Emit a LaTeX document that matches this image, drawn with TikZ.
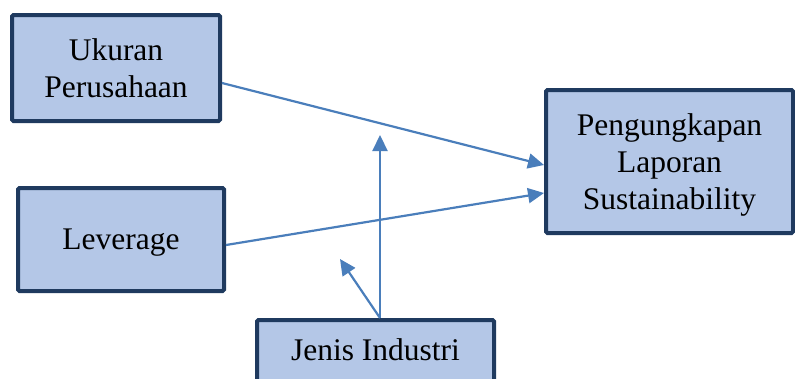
\documentclass[tikz,border=0pt]{standalone}
\usepackage{fontspec}
\setmainfont{Liberation Serif}
\usetikzlibrary{calc,arrows.meta}

\definecolor{boxfill}{HTML}{B4C7E7}
\definecolor{boxline}{HTML}{1F3A5F}
\definecolor{arrowblue}{HTML}{4A7EBB}

\begin{document}
\begin{tikzpicture}[
    x=1pt, y=-1pt,
    varbox/.style={rectangle, draw=boxline, fill=boxfill, line width=4pt, rounded corners=1.5pt, align=center, inner sep=0pt, font=\fontsize{31.5}{37}\selectfont},
    arrow/.style={-{Triangle[length=16pt, width=15pt]}, line width=2.2pt, arrowblue},
]

\clip (0,0) rectangle (795,378);
\useasboundingbox (0,0) rectangle (795,378);

% === VARIABLES ===
\node[varbox, minimum width=208pt, minimum height=106pt] at (116,68) (ukuran) {Ukuran\\Perusahaan};
\node[varbox, minimum width=206pt, minimum height=103pt, text depth=0pt] at (121,239.5) (leverage) {Leverage};
\node[varbox, minimum width=247pt, minimum height=143pt, text depth=0pt] at (669.5,161.5) (pengungkapan) {Pengungkapan\\Laporan\\Sustainability};
\node[varbox, anchor=north, minimum width=237pt, text height=21pt, text depth=60pt, inner ysep=19pt] at (375.5,318) (jenis) {Jenis Industri};

% free ends of the moderation arrows
\coordinate (moderasi) at (380,135);
\coordinate (moderasi-lev) at (340,259);

% === ARROWS ===
\draw[arrow] ([yshift=-15pt]ukuran.east) -- ([yshift=-3.5pt]pengungkapan.west);
\draw[arrow] ([yshift=-5.5pt]leverage.east) -- ([yshift=-31.5pt]pengungkapan.west);

% Jenis Industri as moderator
\draw[arrow] ([xshift=4.5pt]jenis.north) -- (moderasi);
\draw[arrow] ([xshift=4.5pt]jenis.north) -- (moderasi-lev);

\end{tikzpicture}
\end{document}
